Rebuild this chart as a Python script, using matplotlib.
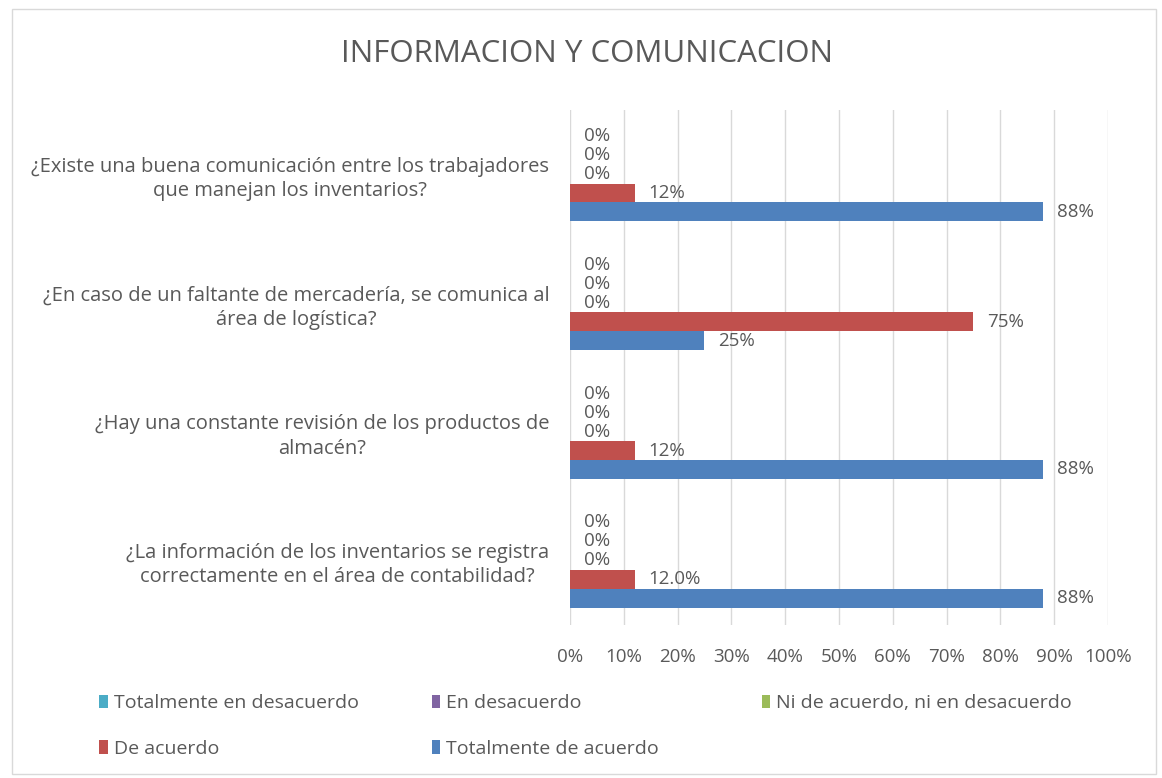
import matplotlib.pyplot as plt
from matplotlib.patches import Patch, Rectangle
import numpy as np

plt.rcParams['font.family'] = ['Open Sans', 'DejaVu Sans']

# categories, bottom to top as drawn
preguntas = [
    '¿La información de los inventarios se registra\ncorrectamente en el área de contabilidad?',
    '¿Hay una constante revisión de los productos de\nalmacén?',
    '¿En caso de un faltante de mercadería, se comunica al\nárea de logística?',
    '¿Existe una buena comunicación entre los trabajadores\nque manejan los inventarios?',
]

series = ['Totalmente de acuerdo', 'De acuerdo', 'Ni de acuerdo, ni en desacuerdo',
          'En desacuerdo', 'Totalmente en desacuerdo']
colores = ['#4F81BD', '#C0504D', '#9BBB59', '#8064A2', '#4BACC6']

tot_acuerdo = [88, 88, 25, 88]
de_acuerdo = [12, 12, 75, 12]
ni_ni = [0, 0, 0, 0]
en_desacuerdo = [0, 0, 0, 0]
tot_desacuerdo = [0, 0, 0, 0]
valores = [tot_acuerdo, de_acuerdo, ni_ni, en_desacuerdo, tot_desacuerdo]

etiquetas = [
    ['88%', '88%', '25%', '88%'],
    ['12.0%', '12%', '75%', '12%'],
    ['0%', '0%', '0%', '0%'],
    ['0%', '0%', '0%', '0%'],
    ['0%', '0%', '0%', '0%'],
]

gris = '#595959'

fig = plt.figure(figsize=(11.62, 7.78), dpi=100)
ax = fig.add_axes([0.4905, 0.197, 0.463, 0.662])

y = np.arange(len(preguntas))
h = 0.147
for k, (vals, col) in enumerate(zip(valores, colores)):
    pos = y + (k - 2) * h
    bars = ax.barh(pos, vals, height=h, color=col, zorder=3)
    for b, txt in zip(bars, etiquetas[k]):
        ax.annotate(txt, (b.get_width(), b.get_y() + b.get_height() / 2),
                    xytext=(10, 0), textcoords='offset points',
                    ha='left', va='center', fontsize=13.5, color=gris)

ax.set_xlim(0, 100)
ax.set_ylim(-0.5, len(preguntas) - 0.5)
ax.set_xticks(np.arange(0, 101, 10))
ax.set_xticklabels([f'{v}%' for v in range(0, 101, 10)])
ax.set_yticks(y)
ax.set_yticklabels(preguntas)
for lbl in ax.get_yticklabels():
    lbl.set_multialignment('center')
    lbl.set_fontsize(14.5)
    lbl.set_linespacing(1.3)
ax.tick_params(axis='both', length=0, labelcolor=gris)
ax.tick_params(axis='x', pad=17, labelsize=13.5)
ax.tick_params(axis='y', pad=15)
ax.grid(axis='x', color='#d9d9d9', linewidth=1, zorder=0)
for s in ax.spines.values():
    s.set_visible(False)

fig.text(0.505, 0.931, 'INFORMACION Y COMUNICACION', ha='center', va='center',
         fontsize=22.5, color=gris)

# legend in three columns, like the original
cols = [(0.077, [4, 1]), (0.363, [3, 0]), (0.647, [2])]
for x0, idx in cols:
    handles = [Patch(facecolor=colores[i]) for i in idx]
    labels = [series[i] for i in idx]
    fig.legend(handles, labels, loc='upper left', bbox_to_anchor=(x0, 0.12),
               frameon=False, fontsize=14, labelcolor=gris, handlelength=0.45,
               handleheight=0.7, handletextpad=0.3, labelspacing=1.4,
               borderpad=0)

fig.add_artist(Rectangle((0.01, 0.005), 0.985, 0.983, transform=fig.transFigure,
                         fill=False, edgecolor='#d9d9d9', linewidth=1))

fig.savefig('out.png', dpi=100)
